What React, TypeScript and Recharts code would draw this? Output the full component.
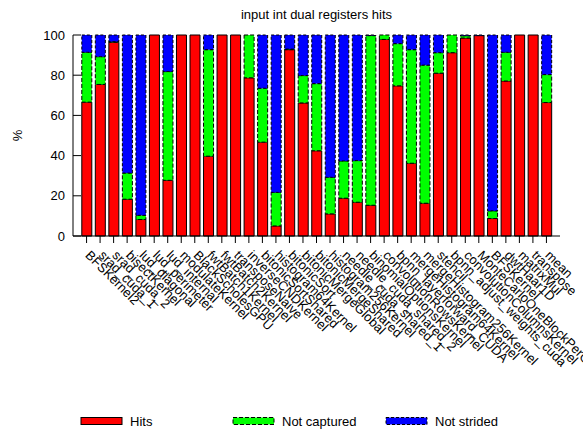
import { BarChart, Bar, XAxis, YAxis } from "recharts";

const kernels = [
  "BFSKernel2", "srad_cuda_1", "srad_cuda_2", "bisectKernel", "lud_diagonal",
  "lud_perimeter", "lud_internal", "modulateKernel", "BlackScholesGPU", "fwtBatch1Kernel",
  "fwtBatch2Kernel", "transposeNaive", "inverseCNDKernel", "bitonicSortShared", "histogram64Kernel",
  "bitonicSort", "bitonicMergeGlobal", "bitonicMergeShared", "histogram256Kernel", "needle_cuda_shared_1",
  "needle_cuda_shared_2", "binomialOptionsKernel", "convolutionRowsKernel", "bpnn_layerforward_CUDA", "mergeHistogram64Kernel",
  "mergeHistogram256Kernel", "stencil", "bpnn_adjust_weights_cuda", "convolutionColumnsKernel", "MonteCarloOneBlockPerOption",
  "BFSKernel", "dwtHaar1D", "matrixMul", "transpose", "mean",
];

const hits = [
  66.6, 75.4, 96.4, 18.3, 8.2, 100, 27.7, 100, 100, 39.7,
  100, 100, 78.7, 46.7, 5.0, 92.7, 66.2, 42.4, 11.0, 18.8,
  16.8, 15.3, 97.8, 74.7, 36.2, 16.3, 81.0, 91.2, 98.5, 99.7,
  8.7, 77.1, 100, 100, 66.4,
];

const notCaptured = [
  24.8, 13.8, 0.3, 13.0, 2.1, 0, 54.1, 0, 0, 53.0,
  0, 0, 21.3, 26.8, 16.7, 0.3, 13.6, 33.4, 18.2, 18.5,
  20.7, 84.4, 2.2, 21.0, 56.5, 68.7, 10.2, 8.8, 1.1, 0,
  3.8, 14.3, 0, 0, 13.9,
];

const notStrided = [
  8.6, 10.8, 3.3, 68.7, 89.7, 0, 18.2, 0, 0, 7.3,
  0, 0, 0, 26.5, 78.3, 7.0, 20.2, 24.2, 70.8, 62.7,
  62.5, 0.3, 0, 4.3, 7.3, 15.0, 8.8, 0, 0.4, 0.3,
  87.5, 8.6, 0, 0, 19.7,
];

const yTicks = [0, 20, 40, 60, 80, 100];

const data = kernels.map((name, i) => ({
  name,
  hits: hits[i],
  notCaptured: notCaptured[i],
  notStrided: notStrided[i],
}));

const FONT = '"Liberation Sans", Arial, Helvetica, sans-serif';

function KernelTick(props: any) {
  const { x, y, payload } = props;
  const ax = x - 2;
  const ay = y + 11;
  return (
    <text
      x={ax}
      y={ay}
      transform={`rotate(45, ${ax}, ${ay})`}
      textAnchor="start"
      fontSize={13}
      fontFamily={FONT}
      fill="#000"
    >
      {payload.value}
    </text>
  );
}

function LeftTick(props: any) {
  const { x, y, payload } = props;
  return (
    <g>
      <line x1={x + 8} y1={y} x2={x + 16} y2={y} stroke="#000" />
      <text x={x} y={y} dy={4.5} textAnchor="end" fontSize={13} fontFamily={FONT} fill="#000">
        {payload.value}
      </text>
    </g>
  );
}

function RightTick(props: any) {
  const { x, y } = props;
  return <line x1={x - 8} y1={y} x2={x} y2={y} stroke="#000" />;
}

function PercentLabel(props: any) {
  const vb = props.viewBox;
  const cx = vb.x + 17;
  const cy = vb.y + vb.height / 2;
  return (
    <text
      x={cx}
      y={cy}
      transform={`rotate(-90, ${cx}, ${cy})`}
      textAnchor="middle"
      dominantBaseline="central"
      fontSize={13}
      fontFamily={FONT}
      fill="#000"
    >
      %
    </text>
  );
}

const legendItems = [
  { label: "Hits", color: "#ff0000", dash: undefined, x: 81 },
  { label: "Not captured", color: "#00ff00", dash: "4 2", x: 233 },
  { label: "Not strided", color: "#0000ff", dash: "3 2", x: 386 },
];

export default function App() {
  return (
    <div style={{ position: "absolute", left: 0, top: 0, width: 583, height: 430, background: "#fff" }}>
      <div
        style={{
          position: "absolute",
          left: 73,
          top: 7,
          width: 487,
          textAlign: "center",
          fontFamily: FONT,
          fontSize: 13,
          color: "#000",
        }}
      >
        input int dual registers hits
      </div>
      <BarChart
        width={583}
        height={430}
        data={data}
        margin={{ top: 35, right: 23, bottom: 0, left: 0 }}
        barSize={10}
      >
        <XAxis
          dataKey="name"
          interval={0}
          height={194}
          padding={{ left: 6.8, right: 6.8 }}
          axisLine={{ stroke: "#000" }}
          tickLine={{ stroke: "#000" }}
          tickSize={7}
          tickMargin={2}
          tick={<KernelTick />}
        />
        <XAxis
          xAxisId="top"
          dataKey="name"
          orientation="top"
          height={0}
          axisLine={{ stroke: "#000" }}
          tickLine={false}
          tick={false}
        />
        <YAxis
          domain={[0, 100]}
          ticks={yTicks}
          width={73}
          axisLine={{ stroke: "#000" }}
          tickLine={false}
          tickSize={8}
          tickMargin={0}
          tick={<LeftTick />}
          label={<PercentLabel />}
        />
        <YAxis
          yAxisId="right"
          orientation="right"
          domain={[0, 100]}
          ticks={yTicks}
          width={0}
          axisLine={{ stroke: "#000" }}
          tickLine={false}
          tickSize={0}
          tickMargin={0}
          tick={<RightTick />}
        />
        <Bar dataKey="hits" stackId="a" fill="#ff0000" stroke="#000" strokeWidth={1} isAnimationActive={false} />
        <Bar dataKey="notCaptured" stackId="a" fill="#00ff00" stroke="#000" strokeWidth={1} strokeDasharray="4 2" isAnimationActive={false} />
        <Bar dataKey="notStrided" stackId="a" fill="#0000ff" stroke="#000" strokeWidth={1} strokeDasharray="3 2" isAnimationActive={false} />
      </BarChart>
      <svg style={{ position: "absolute", left: 0, top: 410 }} width={583} height={20}>
        {legendItems.map((item) => (
          <g key={item.label}>
            <rect
              x={item.x}
              y={7.5}
              width={41}
              height={7}
              fill={item.color}
              stroke="#000"
              strokeDasharray={item.dash}
            />
            <text x={item.x + 49} y={11} dy={4.5} fontSize={13} fontFamily={FONT} fill="#000">
              {item.label}
            </text>
          </g>
        ))}
      </svg>
    </div>
  );
}
